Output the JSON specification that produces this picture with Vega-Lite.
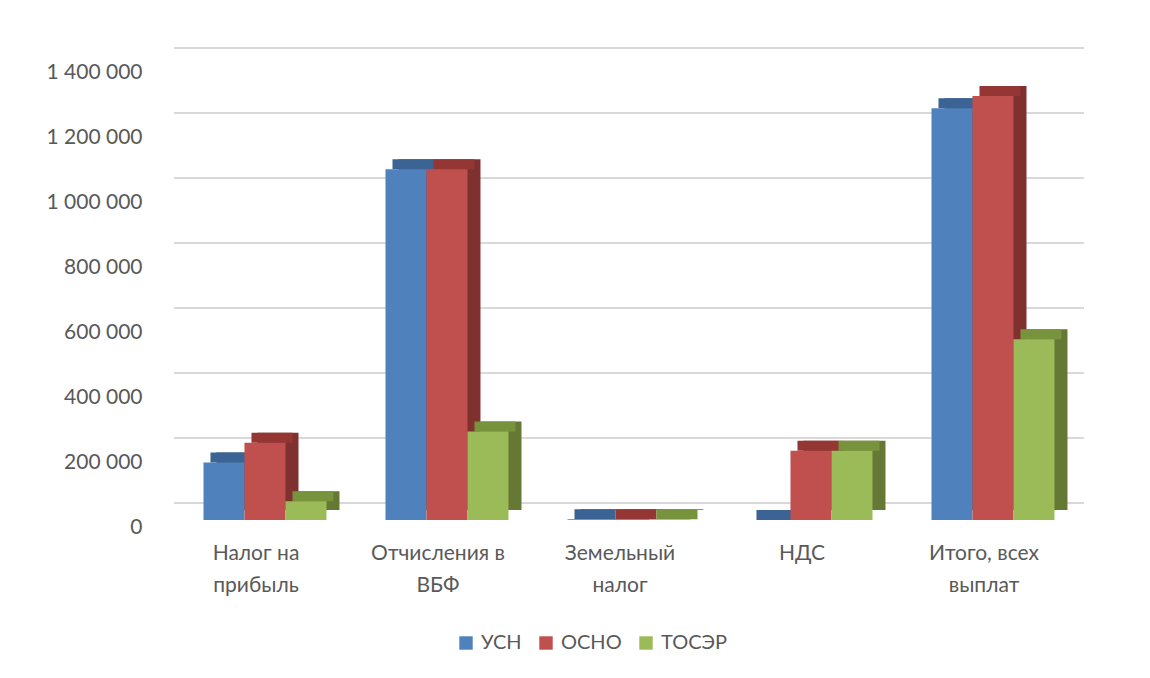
{
  "$schema": "https://vega.github.io/schema/vega-lite/v6.json",
  "width": 910,
  "height": 455,
  "autosize": {"type": "none"},
  "padding": {"left": 174, "top": 65, "right": 66, "bottom": 158},
  "background": "white",
  "config": {
    "font": "Lato",
    "view": {"stroke": null},
    "axis": {"domain": false, "ticks": false, "grid": false, "labelFont": "Lato", "labelFontSize": 21, "labelColor": "#595959", "title": null},
    "locale": {"number": {"decimal": ",", "thousands": " ", "grouping": [3], "currency": ["", " ₽"]}}
  },
  "datasets": {
    "bars": [
      {"category": "Налог на прибыль", "series": "УСН", "value": 177000},
      {"category": "Налог на прибыль", "series": "ОСНО", "value": 238000},
      {"category": "Налог на прибыль", "series": "ТОСЭР", "value": 58000},
      {"category": "Отчисления в ВБФ", "series": "УСН", "value": 1079000},
      {"category": "Отчисления в ВБФ", "series": "ОСНО", "value": 1079000},
      {"category": "Отчисления в ВБФ", "series": "ТОСЭР", "value": 272000},
      {"category": "Земельный налог", "series": "УСН", "value": 2000},
      {"category": "Земельный налог", "series": "ОСНО", "value": 2000},
      {"category": "Земельный налог", "series": "ТОСЭР", "value": 2000},
      {"category": "НДС", "series": "УСН", "value": 0},
      {"category": "НДС", "series": "ОСНО", "value": 213000},
      {"category": "НДС", "series": "ТОСЭР", "value": 213000},
      {"category": "Итого, всех выплат", "series": "УСН", "value": 1267000},
      {"category": "Итого, всех выплат", "series": "ОСНО", "value": 1305000},
      {"category": "Итого, всех выплат", "series": "ТОСЭР", "value": 556000}
    ],
    "ticks": [
      {"v": 0}, {"v": 200000}, {"v": 400000}, {"v": 600000},
      {"v": 800000}, {"v": 1000000}, {"v": 1200000}, {"v": 1400000}
    ]
  },
  "layer": [
    {
      "data": {"name": "ticks"},
      "mark": {"type": "rule", "color": "#d9d9d9", "strokeWidth": 2, "yOffset": -17},
      "encoding": {
        "y": {
          "field": "v", "type": "quantitative", "title": null,
          "scale": {"domain": [0, 1400000]},
          "axis": {"values": [0, 200000, 400000, 600000, 800000, 1000000, 1200000, 1400000], "format": ",d", "labelPadding": 32, "labelOffset": 7}
        }
      }
    },
    {
      "data": {"name": "bars"},
      "mark": {"type": "bar", "yOffset": -10, "y2Offset": -10},
      "encoding": {
        "x": {
          "field": "category", "type": "nominal", "sort": null, "title": null,
          "scale": {"paddingInner": 0.324, "paddingOuter": 0.162},
          "axis": {
            "labelAngle": 0, "labelPadding": 22, "labelLineHeight": 32, "labelOffset": -9,
            "labelExpr": "lastindexof(datum.label, ' ') > 0 ? [slice(datum.label, 0, lastindexof(datum.label, ' ')), slice(datum.label, lastindexof(datum.label, ' ') + 1)] : datum.label"
          }
        },
        "xOffset": {"field": "series", "type": "nominal", "scale": {"domain": ["УСН", "ОСНО", "ТОСЭР"], "range": [13, 136]}},
        "y": {"field": "value", "type": "quantitative", "title": null},
        "color": {"field": "series", "type": "nominal", "legend": null, "scale": {"domain": ["УСН", "ОСНО", "ТОСЭР"], "range": ["#385d8a", "#7f3130", "#657934"]}}
      }
    },
    {
      "data": {"name": "bars"},
      "mark": {"type": "bar", "yOffset": -10, "y2Offset": 0},
      "encoding": {
        "x": {"field": "category", "type": "nominal", "sort": null, "title": null},
        "xOffset": {"field": "series", "type": "nominal", "scale": {"domain": ["УСН", "ОСНО", "ТОСЭР"], "range": [7, 130]}},
        "y": {"field": "value", "type": "quantitative", "title": null},
        "y2": {"field": "value"},
        "color": {"field": "series", "type": "nominal", "legend": null, "scale": {"domain": ["УСН", "ОСНО", "ТОСЭР"], "range": ["#3b6393", "#943634", "#77933c"]}}
      }
    },
    {
      "data": {"name": "bars"},
      "mark": {"type": "bar"},
      "encoding": {
        "x": {"field": "category", "type": "nominal", "sort": null, "title": null},
        "xOffset": {"field": "series", "type": "nominal", "scale": {"domain": ["УСН", "ОСНО", "ТОСЭР"], "range": [0, 123]}},
        "y": {"field": "value", "type": "quantitative", "title": null},
        "color": {
          "field": "series", "type": "nominal", "title": null,
          "scale": {"domain": ["УСН", "ОСНО", "ТОСЭР"], "range": ["#4f81bd", "#c0504d", "#9bbb59"]},
          "legend": {
            "orient": "none", "legendX": 282, "legendY": 568, "direction": "horizontal",
            "symbolType": "square", "symbolSize": 180, "symbolStrokeWidth": 0, "symbolOpacity": 1,
            "labelFont": "Lato", "labelFontSize": 20, "labelColor": "#595959",
            "labelOffset": 5, "columnPadding": 14
          }
        }
      }
    }
  ],
  "resolve": {"scale": {"color": "independent", "xOffset": "independent"}}
}
